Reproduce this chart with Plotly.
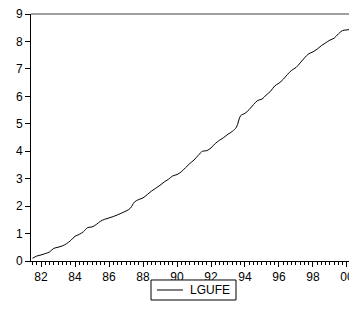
import plotly.graph_objects as go

# quarterly observations, 1981Q3 .. 2000Q3 (decimal year positions)
start_year = 1981.5
lgufe = [
    0.10, 0.18, 0.22, 0.27, 0.33, 0.46, 0.50, 0.55, 0.63, 0.75,
    0.90, 0.97, 1.07, 1.22, 1.24, 1.33, 1.45, 1.52, 1.57, 1.62,
    1.68, 1.75, 1.82, 1.92, 2.15, 2.24, 2.30, 2.42, 2.55, 2.65,
    2.76, 2.88, 2.98, 3.10, 3.15, 3.25, 3.40, 3.55, 3.68, 3.85,
    4.00, 4.02, 4.12, 4.28, 4.40, 4.50, 4.62, 4.72, 4.88, 5.30,
    5.38, 5.52, 5.70, 5.85, 5.90, 6.05, 6.18, 6.38, 6.48, 6.62,
    6.80, 6.95, 7.05, 7.22, 7.40, 7.55, 7.62, 7.72, 7.85, 7.95,
    8.05, 8.12, 8.28, 8.40, 8.42, 8.45, 8.52,
]
x_vals = [start_year + 0.25 * i for i in range(len(lgufe))]
tick_years = [1982, 1984, 1986, 1988, 1990, 1992, 1994, 1996, 1998, 2000]
tick_labels = ["82", "84", "86", "88", "90", "92", "94", "96", "98", "00"]
y_ticks = [0, 1, 2, 3, 4, 5, 6, 7, 8, 9]
series_name = "LGUFE"

fig = go.Figure()
fig.add_trace(go.Scatter(
    x=x_vals, y=lgufe, mode="lines", name=series_name,
    line=dict(color="black", width=1), line_shape="spline",
    showlegend=False,
))

fig.update_layout(
    width=349, height=304,
    margin=dict(l=23, r=0, t=6, b=51, autoexpand=False),
    paper_bgcolor="white", plot_bgcolor="white",
    font=dict(family="Liberation Sans, Arial, sans-serif", size=12, color="black"),
    showlegend=False,
    xaxis=dict(
        range=[1981.41, 2000.59], tickmode="array", tickvals=tick_years,
        ticktext=tick_labels, ticks="outside", ticklen=5, tickwidth=1,
        tickcolor="black", showgrid=False, zeroline=False, automargin=False,
        ticklabeloverflow="allow",
        showline=True, linecolor="black", linewidth=1,
        minor=dict(dtick=0.25, tick0=1982, ticks="outside", ticklen=3,
                   tickcolor="black", showgrid=False),
    ),
    yaxis=dict(
        range=[0, 9], tickvals=y_ticks, ticks="outside", ticklen=5,
        tickcolor="black", showgrid=False, zeroline=False, automargin=False,
        ticklabeloverflow="allow",
        showline=True, linecolor="black", linewidth=1,
    ),
    shapes=[
        dict(type="line", xref="paper", yref="paper", x0=0, x1=1,
             y0=1, y1=1, line=dict(color="#808080", width=1.5)),
        # legend box and key line
        dict(type="rect", xref="paper", yref="paper", x0=0.3681, x1=0.6288,
             y0=-0.0769, y1=-0.1579, line=dict(color="black", width=1),
             fillcolor="white"),
        dict(type="line", xref="paper", yref="paper", x0=0.3865, x1=0.4663,
             y0=-0.1174, y1=-0.1174, line=dict(color="black", width=1)),
    ],
    annotations=[dict(
        text=series_name, xref="paper", yref="paper", x=0.4816, y=-0.1174,
        xanchor="left", yanchor="middle", showarrow=False,
        font=dict(size=12, color="black"),
    )],
)

fig.write_html("out.html")
